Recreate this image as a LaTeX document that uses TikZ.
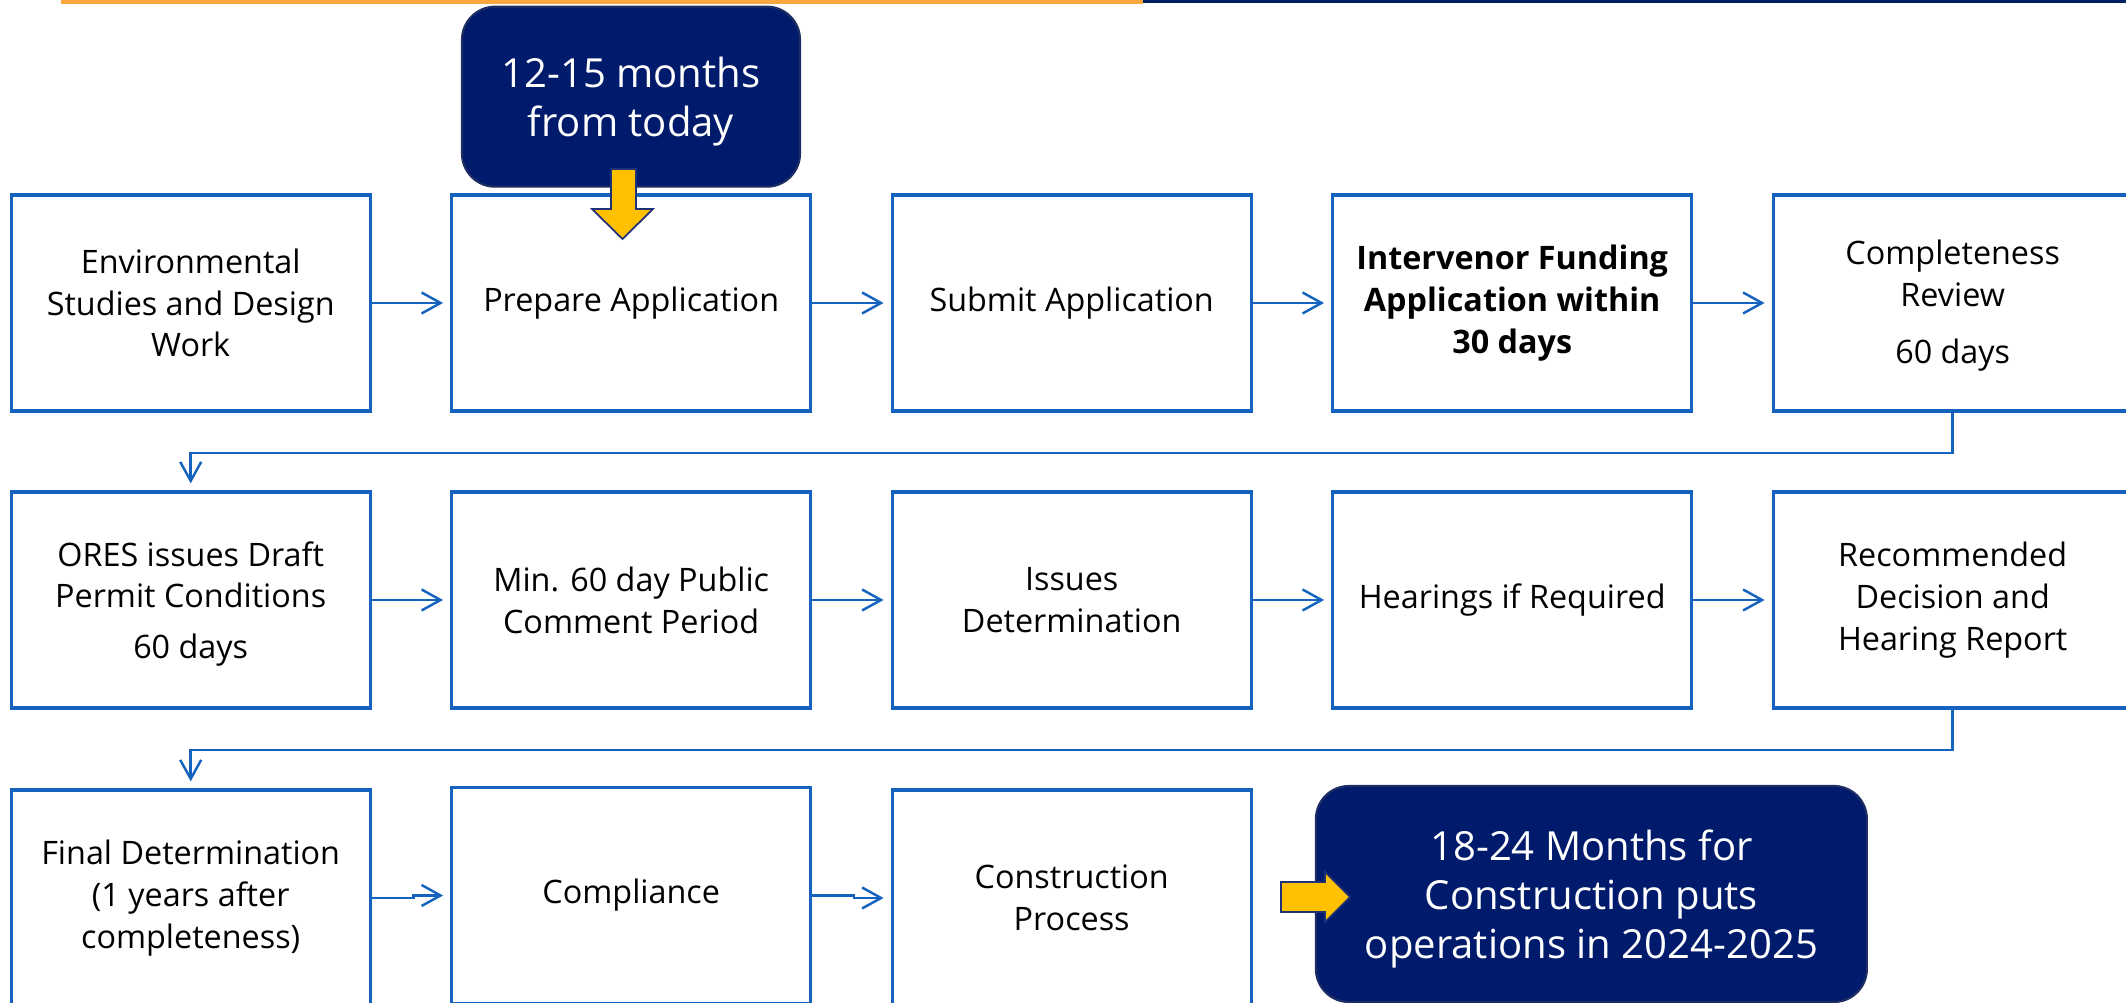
\documentclass[tikz,border=0pt]{standalone}
\usepackage{fontspec}
\setmainfont{Open Sans}
\usetikzlibrary{arrows.meta}

\definecolor{flowblue}{HTML}{1663BF}
\definecolor{navy}{HTML}{001A6C}
\definecolor{navyline}{HTML}{1E2D63}
\definecolor{gold}{HTML}{FFC000}
\definecolor{goldline}{HTML}{1F3277}
\definecolor{topor}{HTML}{F9A73E}
\definecolor{topnavy}{HTML}{002060}

\begin{document}
\begin{tikzpicture}
   \tikzstyle{box} = [draw=flowblue, line width=0.9pt, fill=white,
                      minimum width=3.59cm, minimum height=2.16cm,
                      inner sep=0pt, align=center, text=black,
                      font=\fontsize{9.2}{11.9}\selectfont];
   \tikzstyle{note} = [draw=navyline, line width=0.6pt, fill=navy,
                       text=white, rounded corners=0.33cm, inner sep=0pt,
                       align=center, font=\fontsize{11.4}{14}\selectfont];
   \tikzstyle{gd} = [flowblue, line width=0.7pt, shorten >=0.7mm,
                     -{Straight Barb[length=1.9mm, width=2.1mm]}];
   \tikzstyle{yarr} = [fill=gold, draw=goldline, line width=0.5pt];

    \useasboundingbox (0,0) rectangle (21.26,-10.03);

    % rule along the top edge
    \draw[topor, line width=1.3pt] (0.61,-0.022) -- (11.43,-0.022);
    \draw[topnavy, line width=0.9pt] (11.43,-0.015) -- (21.26,-0.015);

    % first row
    \node[box] (1) at (1.907,-3.03) {Environmental\\Studies and Design\\Work};
    \node[box] (2) at (6.312,-3.03) {Prepare Application};
    \node[box] (3) at (10.717,-3.03) {Submit Application};
    \node[box, font=\fontsize{9.2}{11.9}\selectfont\bfseries] (4)
         at (15.122,-3.03) {Intervenor Funding\\Application within\\30 days};
    \node[box, text depth=0.02cm] (5) at (19.527,-3.03)
         {Completeness\\Review\\[0.15cm]60 days};

    % second row
    \node[box, text depth=-0.03cm] (6) at (1.907,-6.00)
         {ORES issues Draft\\Permit Conditions\\[0.09cm]60 days};
    \node[box] (7) at (6.312,-6.00) {Min. 60 day Public\\Comment Period};
    \node[box] (8) at (10.717,-6.00) {Issues\\Determination};
    \node[box] (9) at (15.122,-6.00) {Hearings if Required};
    \node[box] (a10) at (19.527,-6.00) {Recommended\\Decision and\\Hearing Report};

    % third row
    \node[box] (a11) at (1.907,-8.98) {Final Determination\\(1 years after\\completeness)};
    \node[box] (a12) at (6.312,-8.955) {Compliance};
    \node[box] (a13) at (10.717,-8.98) {Construction\\Process};

    % time notes
    \node[note, minimum width=3.38cm, minimum height=1.80cm,
          text depth=-0.09cm] (n1)
         at (6.31,-0.967) {12-15 months\\from today};
    \node[note, minimum width=5.51cm, minimum height=2.16cm,
          text depth=0cm] (n2)
         at (15.914,-8.94) {18-24 Months for\\Construction puts\\operations in 2024-2025};

    \path[gd] (1) edge (2);
    \path[gd] (2) edge (3);
    \path[gd] (3) edge (4);
    \path[gd] (4) edge (5);

    \draw[gd] (5.south) -- ++(0,-0.405) -| (6.north);

    \path[gd] (6) edge (7);
    \path[gd] (7) edge (8);
    \path[gd] (8) edge (9);
    \path[gd] (9) edge (a10);

    \draw[gd] (a10.south) -- ++(0,-0.405) -| (a11.north);

    \draw[gd] (a11.east) -- ++(0.417,0) |- (a12.west);
    \draw[gd] (a12.east) -- ++(0.417,0) |- (a13.west);

    % gold pointers
    \filldraw[yarr] (6.11,-1.69) -- (6.36,-1.69) -- (6.36,-2.09)
        -- (6.53,-2.09) -- (6.225,-2.39) -- (5.92,-2.09)
        -- (6.11,-2.09) -- cycle;
    \filldraw[yarr] (12.81,-8.82) -- (13.25,-8.82) -- (13.25,-8.72)
        -- (13.50,-8.97) -- (13.25,-9.22) -- (13.25,-9.12)
        -- (12.81,-9.12) -- cycle;

\end{tikzpicture}
\end{document}
